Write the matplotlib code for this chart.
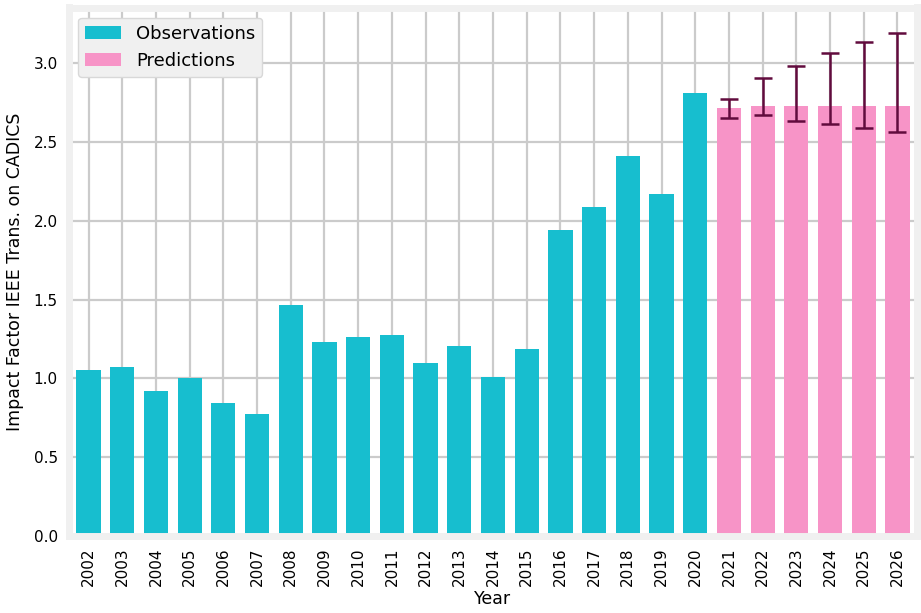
import matplotlib
matplotlib.use("Agg")
import matplotlib.pyplot as plt
import numpy as np
from matplotlib.patches import Patch

obs_years = [str(y) for y in range(2002, 2021)]
obs_values = [1.051, 1.070, 0.917, 1.000, 0.841, 0.777, 1.465, 1.229, 1.261, 1.274,
              1.096, 1.204, 1.006, 1.185, 1.943, 2.089, 2.408, 2.172, 2.809]
pred_years = [str(y) for y in range(2021, 2027)]
pred_values = [2.713, 2.726, 2.726, 2.726, 2.726, 2.726]
pred_upper = [2.773, 2.906, 2.983, 3.064, 3.132, 3.193]
pred_lower = [2.652, 2.669, 2.631, 2.616, 2.586, 2.562]

obs_color = "#17becf"
pred_color = "#f794c7"
err_color = "#610b3d"

fig = plt.figure(figsize=(9.21, 6.13), dpi=100, facecolor="white")
ax = fig.add_axes([69/921, 1-536/613, (917-69)/921, (536-7.5)/613])
ax.set_facecolor("white")

years = obs_years + pred_years
x_obs = np.arange(len(obs_years))
x_pred = np.arange(len(obs_years), len(years))
ax.set_axisbelow(True)
ax.grid(True, color="#cbcbcb", linewidth=1.6)

ax.bar(x_obs, obs_values, width=0.72, color=obs_color, zorder=2)
yerr = [np.array(pred_values) - np.array(pred_lower), np.array(pred_upper) - np.array(pred_values)]
ax.bar(x_pred, pred_values, width=0.72, color=pred_color, zorder=2)
ax.errorbar(x_pred, pred_values, yerr=yerr, fmt="none", ecolor=err_color,
            elinewidth=1.8, capsize=6.5, capthick=1.8, zorder=3)

ax.set_xticks(np.arange(len(years)))
ax.set_xticklabels(years, rotation=90, fontsize=11)
ax.set_xlim(-0.58, len(years) - 1 + 0.58)
ax.set_ylim(0, 3.353)
ax.set_yticks([0, 0.5, 1.0, 1.5, 2.0, 2.5, 3.0])
ax.set_yticklabels(["0.0", "0.5", "1.0", "1.5", "2.0", "2.5", "3.0"], fontsize=11)
ax.tick_params(length=0, pad=8)

for s in ax.spines.values():
    s.set_color("#f0f0f0")
    s.set_linewidth(5)

ax.set_xlabel("Year", fontsize=12.5, labelpad=3)
ax.set_ylabel("Impact Factor IEEE Trans. on CADICS", fontsize=12.5, labelpad=7)

handles = [Patch(facecolor=obs_color, label="Observations"),
           Patch(facecolor=pred_color, label="Predictions")]
leg = ax.legend(handles=handles, loc="upper left", fontsize=13, frameon=True,
                facecolor="#f0f0f0", edgecolor="#d8d8d8", framealpha=1,
                bbox_to_anchor=(0.0, 0.998))

fig.savefig("out.png", dpi=100, facecolor="white")
